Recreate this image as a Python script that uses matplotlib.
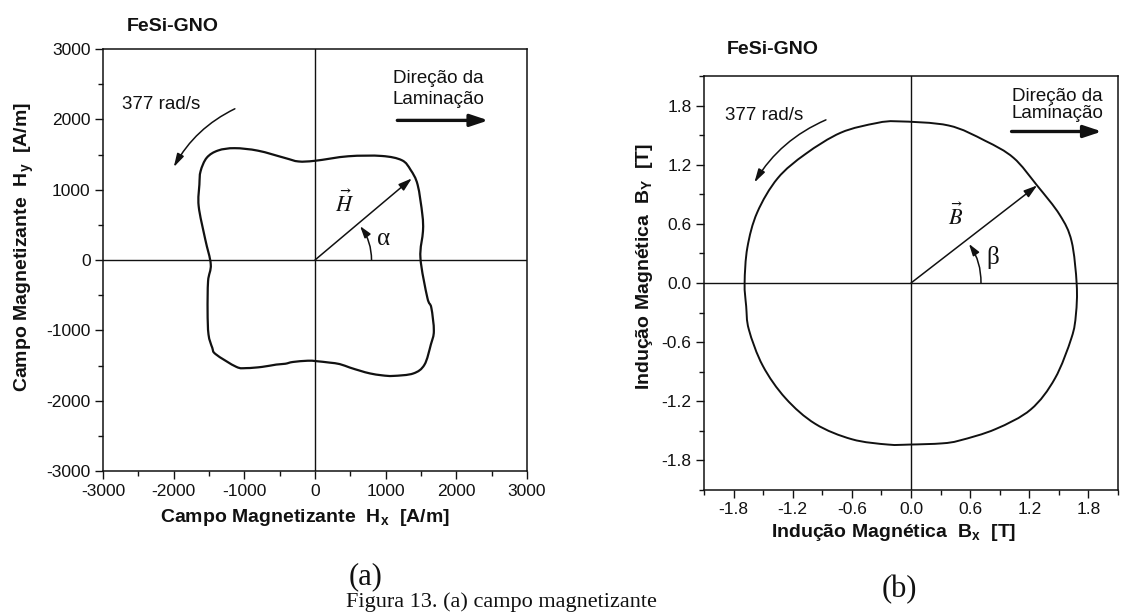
import matplotlib
matplotlib.use("Agg")
import matplotlib.pyplot as plt
from matplotlib.patches import FancyArrowPatch, PathPatch
from matplotlib.path import Path

plt.rcParams['font.family'] = ['Liberation Sans', 'DejaVu Sans']
plt.rcParams['axes.unicode_minus'] = False
plt.rcParams['mathtext.fontset'] = 'custom'
plt.rcParams['mathtext.rm'] = 'Liberation Sans:bold'
plt.rcParams['mathtext.it'] = 'Liberation Sans:bold'
plt.rcParams['mathtext.bf'] = 'Liberation Sans:bold'

# ---- data: magnetizing field locus H (A/m) ----
hx = [1492, 1528, 1519, 1452, 1353, 1230, 946, 472, 3, -233, -423, -805,
      -1137, -1371, -1531, -1619, -1636, -1646, -1553, -1475, -1513, -1520,
      -1507, -1454, -1404, -1114, -971, -750, -549, -420, -314, -102, 16,
      207, 350, 492, 640, 779, 950, 1110, 1392, 1549, 1640, 1682, 1646,
      1590]
hy = [28, 410, 646, 1071, 1281, 1418, 1479, 1475, 1411, 1401, 1450, 1554,
      1590, 1557, 1455, 1263, 1072, 764, 293, -61, -300, -728,
      -1059, -1247, -1340, -1519, -1537, -1520, -1487, -1475, -1450, -1432, -1438,
      -1459, -1480, -1529, -1575, -1613, -1640, -1648, -1613, -1489, -1200, -1008, -678,
      -537]

# ---- data: magnetic induction locus B (T) ----
bx = [1.681, 1.629, 1.509, 1.280, 1.040, 0.752, 0.381, -0.132, -0.351, -0.712,
      -1.070, -1.353, -1.560, -1.660, -1.688, -1.672, -1.645, -1.504, -1.273, -0.971,
      -0.600, -0.233, -0.014, 0.314, 0.496, 0.858, 1.215, 1.460, 1.628, 1.673]
by = [-0.014, 0.424, 0.691, 0.988, 1.270, 1.443, 1.598, 1.640, 1.622, 1.525,
      1.309, 1.062, 0.716, 0.360, 0.0, -0.236, -0.472, -0.839, -1.169, -1.429,
      -1.585, -1.639, -1.639, -1.627, -1.597, -1.482, -1.283, -0.969, -0.557, -0.318]

# vectors drawn from the origin
h_vec = (1370, 1160)
b_vec = (1.28, 0.99)

# ticks
h_major = [-3000, -2000, -1000, 0, 1000, 2000, 3000]
h_minor = [-2500, -1500, -500, 500, 1500, 2500]
b_major = [-1.8, -1.2, -0.6, 0.0, 0.6, 1.2, 1.8]
b_minor = [-2.1, -1.5, -0.9, -0.3, 0.3, 0.9, 1.5, 2.1]

W, H = 1124, 614
fig = plt.figure(figsize=(W / 100, H / 100), dpi=100)
fig.patch.set_facecolor('white')
INK = '#111111'


def box(left, top, right, bottom):
    return [left / W, 1 - bottom / H, (right - left) / W, (bottom - top) / H]


ax_h = fig.add_axes(box(103, 49, 527, 471))
ax_b = fig.add_axes(box(704, 76, 1118, 490))


def style_axes(ax, major, minor, lim, fmt):
    ax.set_xlim(*lim)
    ax.set_ylim(*lim)
    ax.set_xticks(major)
    ax.set_yticks(major)
    ax.set_xticks(minor, minor=True)
    ax.set_yticks(minor, minor=True)
    ax.set_xticklabels([fmt(v) for v in major])
    ax.set_yticklabels([fmt(v) for v in major])
    ax.tick_params(which='major', direction='out', length=6, width=1.0,
                   pad=3, labelsize=12.5, color=INK, labelcolor=INK)
    ax.tick_params(which='minor', direction='out', length=3.8, width=1.0,
                   color=INK)
    for s in ax.spines.values():
        s.set_linewidth(1.1)
        s.set_color(INK)
    ax.axhline(0, color=INK, lw=1.0, zorder=1)
    ax.axvline(0, color=INK, lw=1.0, zorder=1)


def closed_curve(ax, xs, ys, lw):
    """Closed smooth curve through the points (Catmull-Rom as cubic Beziers)."""
    pts = list(zip(xs, ys))
    n = len(pts)
    verts = [pts[0]]
    codes = [Path.MOVETO]
    for i in range(n):
        p0, p1 = pts[i - 1], pts[i]
        p2, p3 = pts[(i + 1) % n], pts[(i + 2) % n]
        c1 = (p1[0] + (p2[0] - p0[0]) / 6, p1[1] + (p2[1] - p0[1]) / 6)
        c2 = (p2[0] - (p3[0] - p1[0]) / 6, p2[1] - (p3[1] - p1[1]) / 6)
        verts += [c1, c2, p2]
        codes += [Path.CURVE4] * 3
    ax.add_patch(PathPatch(Path(verts, codes), fill=False, edgecolor=INK,
                           lw=lw, zorder=3, joinstyle='round'))


style_axes(ax_h, h_major, h_minor, (-3000, 3000), lambda v: f"{v:d}")
style_axes(ax_b, b_major, b_minor, (-2.1, 2.1), lambda v: f"{v:.1f}")

# loci
closed_curve(ax_h, hx, hy, 1.6)
closed_curve(ax_b, bx, by, 1.4)

# axis labels
lab = dict(fontsize=14, fontweight='bold', color=INK)
ax_h.set_xlabel("Campo Magnetizante  H$_\\mathrm{x}$  [A/m]", **lab)
ax_h.set_ylabel("Campo Magnetizante  H$_\\mathrm{y}$  [A/m]", **lab)
ax_b.set_xlabel("Indução Magnética  B$_\\mathrm{x}$  [T]", **lab)
ax_b.set_ylabel("Indução Magnética  B$_\\mathrm{Y}$  [T]", **lab)
ax_h.xaxis.set_label_coords(0.475, -0.085)
ax_h.yaxis.set_label_coords(-0.158, 0.53)
ax_b.xaxis.set_label_coords(0.457, -0.077)
ax_b.yaxis.set_label_coords(-0.118, 0.54)


def arrow(ax, p0, p1, rad=0.0, lw=1.1, hl=0.7, hw=0.25, ms=10):
    a = FancyArrowPatch(p0, p1, connectionstyle=f"arc3,rad={rad}",
                        arrowstyle=f"-|>,head_length={hl},head_width={hw}",
                        mutation_scale=ms, lw=lw, color=INK,
                        shrinkA=0, shrinkB=0, zorder=4)
    ax.add_patch(a)


txt = dict(fontsize=13.5, color=INK, ha='center', va='center')

# panel (a) annotations
ax_h.text(-2180, 2210, "377 rad/s", **txt)
arrow(ax_h, (-1134, 2150), (-1999, 1320), rad=0.16, lw=1.1, hl=0.8, hw=0.22)
ax_h.text(1749, 2430, "Direção da\nLaminação", linespacing=1.25, **txt)
arrow(ax_h, (1165, 1985), (2453, 1985), lw=2.4, hl=0.9, hw=0.3, ms=12)
arrow(ax_h, (0, 0), h_vec, lw=1.1, hl=0.8, hw=0.25)
ax_h.text(423, 800, r"$\vec{H}$", fontsize=16, math_fontfamily='stix',
          ha='center', va='center', color=INK)
arrow(ax_h, (800, 0), (638, 482), rad=0.167, lw=1.1, hl=0.7, hw=0.22)
ax_h.text(966, 293, "α", fontsize=18, family='Liberation Serif',
          ha='center', va='center', color=INK)

# panel (b) annotations
ax_b.text(-1.493, 1.695, "377 rad/s", **txt)
arrow(ax_b, (-0.863, 1.655), (-1.589, 1.019), rad=0.16, lw=1.1, hl=0.8, hw=0.22)
ax_b.text(1.484, 1.807, "Direção da\nLaminação", linespacing=1.0, **txt)
arrow(ax_b, (1.02, 1.537), (1.936, 1.537), lw=2.4, hl=0.9, hw=0.3, ms=12)
arrow(ax_b, (0, 0), b_vec, lw=1.1, hl=0.8, hw=0.25)
ax_b.text(0.451, 0.670, r"$\vec{B}$", fontsize=16, math_fontfamily='stix',
          ha='center', va='center', color=INK)
arrow(ax_b, (0.71, 0.0), (0.588, 0.397), rad=0.16, lw=1.1, hl=0.7, hw=0.22)
ax_b.text(0.832, 0.261, "β", fontsize=18, family='Liberation Serif',
          ha='center', va='center', color=INK)

# titles, panel letters and caption
fig.text(127 / W, 1 - 31 / H, "FeSi-GNO", fontsize=14, fontweight='bold',
         va='baseline', color=INK)
fig.text(727 / W, 1 - 54 / H, "FeSi-GNO", fontsize=14, fontweight='bold',
         va='baseline', color=INK)
fig.text(366 / W, 1 - 577 / H, "(a)", fontsize=22, family='Liberation Serif',
         ha='center', va='center', color=INK)
fig.text(899 / W, 1 - 590 / H, "(b)", fontsize=22, family='Liberation Serif',
         ha='center', va='center', color=INK)
fig.text(346 / W, 1 - 612 / H, "Figura 13. (a) campo magnetizante",
         fontsize=16, family='Liberation Serif', va='bottom', color=INK)

fig.savefig("out.png", dpi=100)
